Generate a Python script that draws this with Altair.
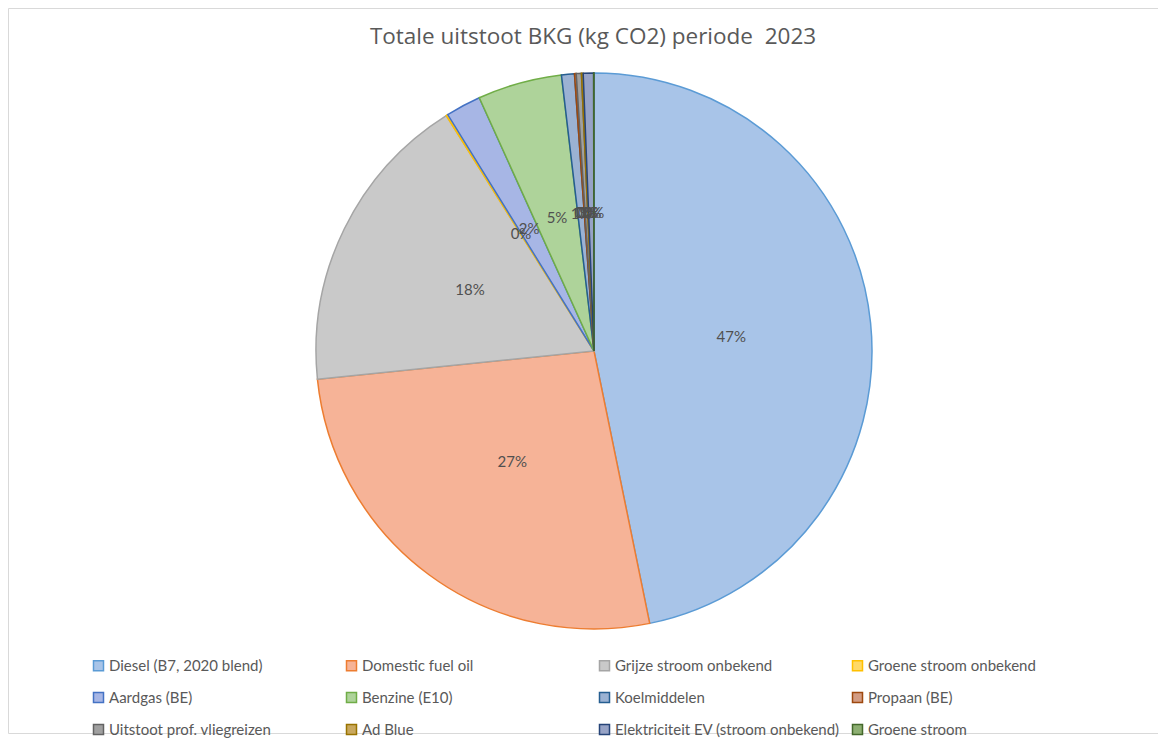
import altair as alt
import pandas as pd

categories = [
    "Diesel (B7, 2020 blend)", "Domestic fuel oil", "Grijze stroom onbekend",
    "Groene stroom onbekend", "Aardgas (BE)", "Benzine (E10)", "Koelmiddelen",
    "Propaan (BE)", "Uitstoot prof. vliegreizen", "Ad Blue",
    "Elektriciteit EV (stroom onbekend)", "Groene stroom",
]
# share of total emissions (kg CO2, relative)
values = [46.8, 26.6, 17.7, 0.1, 2.05, 4.9, 0.75, 0.1, 0.3, 0.1, 0.6, 0.02]
fills = ["#A8C4E8", "#F6B397", "#C9C9C9", "#FFD966", "#A7B6E5", "#AED39A",
         "#9BB2D3", "#D39C83", "#A0A0A0", "#C9A85E", "#97A3C6", "#8DAF72"]
strokes = ["#5B9BD5", "#ED7D31", "#A5A5A5", "#FFC000", "#4472C4", "#70AD47",
           "#255E91", "#9E480E", "#636363", "#997300", "#264478", "#43682B"]

df = pd.DataFrame({"cat": categories, "val": values, "idx": list(range(len(categories)))})

FONT = "Lato"

base = alt.Chart(df).transform_joinaggregate(
    total="sum(val)"
).transform_calculate(
    share="datum.val / datum.total"
).encode(
    theta=alt.Theta("val:Q", stack=True),
    order=alt.Order("idx:Q", sort="ascending"),
)

pie = base.mark_arc(strokeWidth=1.5).encode(
    x=alt.value(586),
    y=alt.value(343),
    radius=alt.value(278),
    color=alt.Color(
        "cat:N",
        sort=categories,
        scale=alt.Scale(domain=categories, range=fills),
        legend=alt.Legend(
            title=None,
            orient="none",
            direction="horizontal",
            legendX=83,
            legendY=650,
            columns=4,
            gridAlign="all",
            columnPadding=9,
            rowPadding=15,
            symbolType="square",
            symbolSize=100,
            symbolStrokeWidth=1.5,
            labelFont=FONT,
            labelFontSize=15,
            labelColor="#595959",
            labelOffset=3,
            labelLimit=400,
            padding=0,
        ),
    ),
    stroke=alt.Stroke(
        "cat:N",
        sort=categories,
        scale=alt.Scale(domain=categories, range=strokes),
        legend=None,
    ),
)

labels = base.mark_text(font=FONT, fontSize=15, color="#505050").encode(
    x=alt.value(586),
    y=alt.value(343),
    radius=alt.value(138),
    text=alt.Text("share:Q", format=".0%"),
)

chart = alt.layer(pie, labels).properties(
    width=1150,
    height=725,
    title=alt.TitleParams(
        "Totale uitstoot BKG (kg CO2) periode\u00a0 2023",
        font="Open Sans",
        fontSize=22.5,
        fontWeight="normal",
        color="#595959",
        anchor="middle",
        offset=-40,
        dx=10,
        frame="group",
    ),
    padding=0,
).configure_view(
    stroke="#D9D9D9",
    strokeWidth=1,
)

chart.save("out.html", embed_options={"renderer": "svg", "actions": False})
